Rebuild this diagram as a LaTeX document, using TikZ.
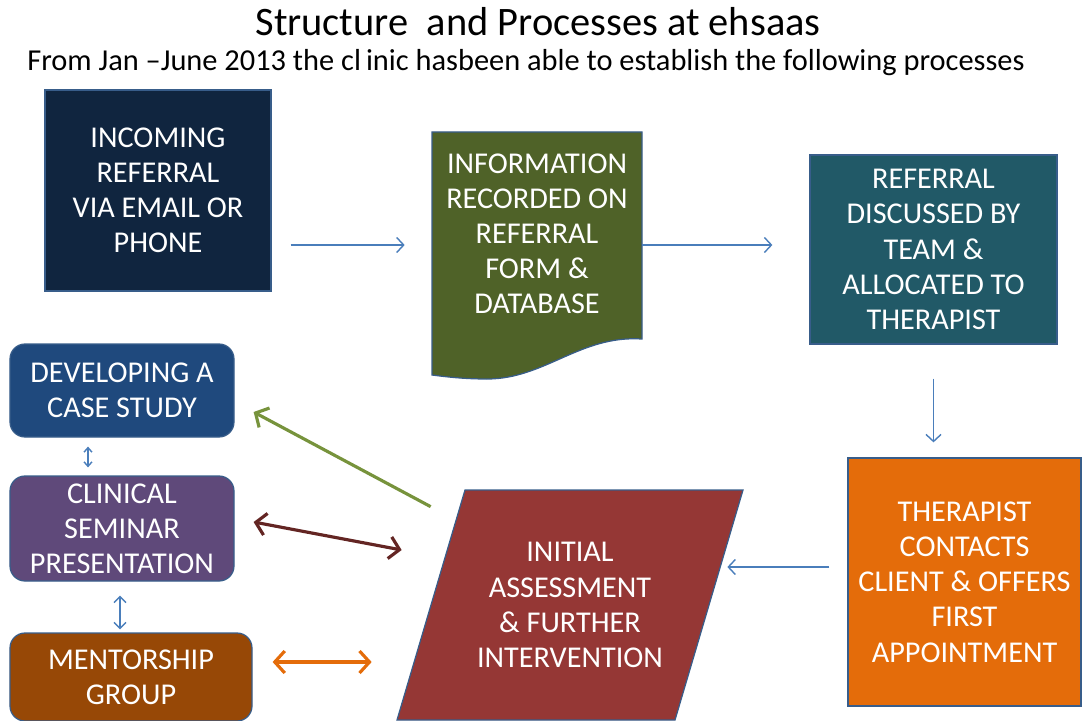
\documentclass[tikz,border=0pt]{standalone}
\usepackage{fontspec}
\setmainfont{Carlito}
\usetikzlibrary{arrows.meta}

\definecolor{edgeblue}{HTML}{385D8A}
\definecolor{arrowblue}{HTML}{4A7EBB}
\definecolor{navy}{HTML}{10253F}
\definecolor{olive}{HTML}{4F6228}
\definecolor{teal}{HTML}{215967}
\definecolor{pumpkin}{HTML}{E46C0A}
\definecolor{brick}{HTML}{953735}
\definecolor{caseblue}{HTML}{1F497D}
\definecolor{plum}{HTML}{5F497A}
\definecolor{rust}{HTML}{974806}
\definecolor{leaf}{HTML}{77933C}
\definecolor{maroon}{HTML}{632523}

\tikzset{
  label/.style={text=white, align=center, font=\fontsize{17.2}{20}\selectfont, inner sep=0pt},
  box/.style={label, draw=edgeblue, line width=0.7pt},
  soft/.style={box, rounded corners=3mm},
  flow/.style={-{Straight Barb[length=1.4mm,width=3mm]}, draw=arrowblue, line width=0.8pt},
  link/.style={{Straight Barb[length=2mm,width=4.4mm]}-{Straight Barb[length=2mm,width=4.4mm]},
    line width=1.8pt}
}

\begin{document}
\begin{tikzpicture}[x=0.2mm,y=-0.2mm]
  \clip (0,0) rectangle (1083,720);

  \node (title) at (538,22) {\fontsize{23}{26}\selectfont Structure\ \ and Processes at ehsaas};
  \node (sub) at (526,63) {\fontsize{17.3}{20}\selectfont From Jan --June 2013 the cl\,inic hasbeen able to establish the following processes};

  \node[box, fill=navy, minimum width=45.2mm, minimum height=40.2mm] (inc) at (158,190.5)
    {INCOMING\\REFERRAL\\VIA EMAIL OR\\PHONE};

  % document shape with the wavy foot
  \filldraw[fill=olive, draw=edgeblue, line width=0.7pt] (432,132) -- (642,132) -- (642,339)
    .. controls (580,335) and (545,379) .. (487,379)
    .. controls (465,379) and (447,377) .. (432,375) -- cycle;
  \node[label, minimum width=42mm] (info) at (537,234)
    {INFORMATION\\RECORDED ON\\REFERRAL\\FORM \&\\DATABASE};

  \node[box, fill=teal, minimum width=49.4mm, minimum height=37.8mm] (ref) at (933.5,249.5)
    {REFERRAL\\DISCUSSED BY\\TEAM \&\\ALLOCATED TO\\THERAPIST};
  \node[box, fill=pumpkin, minimum width=46.6mm, minimum height=49.6mm] (contact) at (964.5,582)
    {THERAPIST\\CONTACTS\\CLIENT \& OFFERS\\FIRST\\APPOINTMENT};

  % slanted block, runs off the bottom edge
  \filldraw[fill=brick, draw=edgeblue, line width=0.7pt] (465,490) -- (743,490) -- (675,720) -- (397,720) -- cycle;
  \node[label, minimum width=55.6mm, minimum height=46mm] (assess) at (570,605)
    {INITIAL\\ASSESSMENT\\\& FURTHER\\INTERVENTION};

  \node[soft, fill=caseblue, minimum width=44.8mm, minimum height=18.6mm] (case) at (122,390.5)
    {DEVELOPING A\\CASE STUDY};
  \node[soft, fill=plum, minimum width=44.8mm, minimum height=21mm] (seminar) at (122,528.5)
    {CLINICAL\\SEMINAR\\PRESENTATION};
  \node[soft, fill=rust, minimum width=48.4mm, minimum height=17.6mm] (mentor) at (131,677)
    {MENTORSHIP\\GROUP};

  \draw[flow, shorten <=3.8mm, shorten >=5.4mm] ([yshift=-10.9mm]inc.east) -- ([yshift=-10.9mm]inc.east -| info.west);
  \draw[flow, shorten >=7.4mm] ([yshift=-2.2mm]info.east) -- ([yshift=-2.2mm]info.east -| ref.west);
  \draw[flow, shorten <=6.8mm, shorten >=3mm] (ref.south) -- (ref.south |- contact.north);
  \draw[flow, shorten <=3.6mm, shorten >=3.6mm] ([yshift=3mm]contact.west) -- ([yshift=3mm]contact.west -| assess.east);

  \draw[{Straight Barb[length=0.9mm,width=1.6mm]}-{Straight Barb[length=0.9mm,width=1.6mm]}, draw=arrowblue, line width=0.8pt,
    shorten <=1.8mm, shorten >=1.6mm] ([xshift=-6.8mm]case.south) -- ([xshift=-6.8mm]seminar.north);
  \draw[{Straight Barb[length=1.2mm,width=2.4mm]}-{Straight Barb[length=1.2mm,width=2.4mm]}, draw=arrowblue, line width=0.8pt,
    shorten <=2.8mm, shorten >=0.6mm] ([xshift=-0.4mm]seminar.south) -- ([xshift=-0.4mm]seminar.south |- mentor.north);

  \draw[-{Straight Barb[length=2mm,width=4.4mm]}, leaf, line width=1.8pt]
    ([yshift=-3.4mm]assess.north west) -- ([shift={(19,21.5)}]case.east);
  \draw[link, maroon] ([shift={(19,-6.5)}]seminar.east) -- ([shift={(-29,-55)}]assess.west);
  \draw[link, pumpkin] ([shift={(20,-15)}]mentor.east) -- ([shift={(-59,57)}]assess.west);
\end{tikzpicture}
\end{document}
